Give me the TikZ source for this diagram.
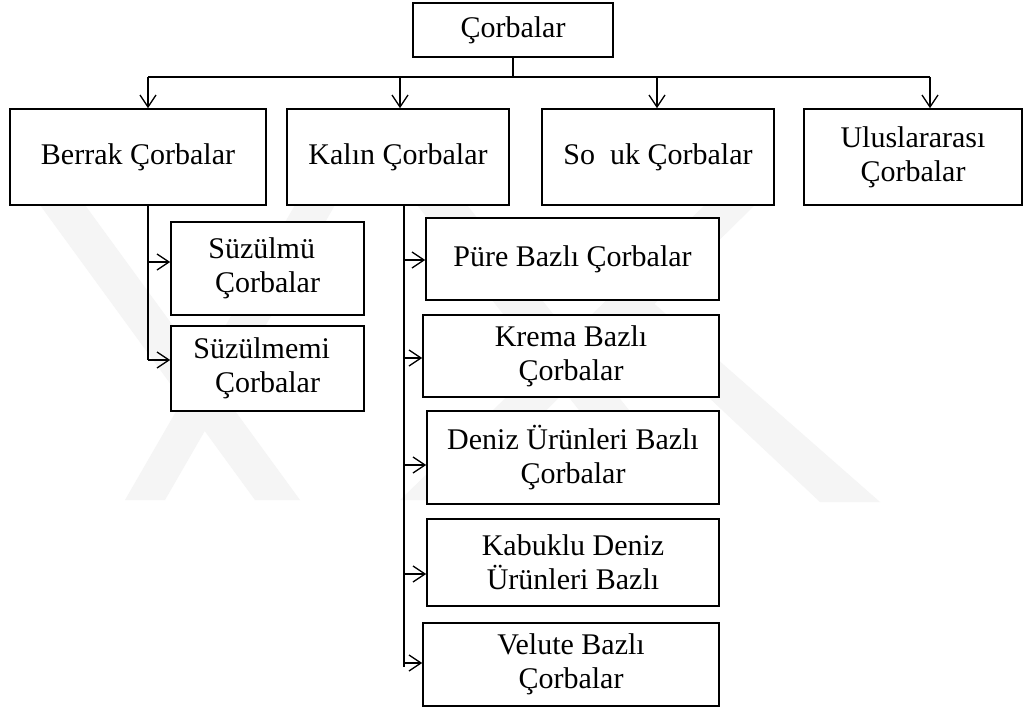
\documentclass[tikz,border=0pt]{standalone}
\usepackage{fontspec}
\setmainfont{Liberation Serif}
\usetikzlibrary{arrows.meta}
\begin{document}
\begin{tikzpicture}[x=0.75pt,y=-0.75pt,
  box/.style={draw=black, line width=1.2pt, fill=white, align=center, inner sep=0pt,
    font=\fontsize{22.5}{25.5}\selectfont},
  conn/.style={draw=black, line width=1pt},
  arr/.style={conn, -{Straight Barb[length=9pt,width=12pt,line width=1pt]}},
  wm/.style={fill=gray!8, draw=none}]
\useasboundingbox (0,0) rectangle (1024,711);
\fill[white] (0,0) rectangle (1024,711);
% faint watermark bands
\fill[wm] (40,205) -- (85,205) -- (300,500) -- (255,500) -- cycle;
\fill[wm] (125,500) -- (165,500) -- (335,205) -- (295,205) -- cycle;
\fill[wm] (417,205) -- (467,205) -- (700,500) -- (650,500) -- cycle;
\fill[wm] (400,500) -- (455,500) -- (757,203) -- (707,203) -- cycle;
\fill[wm] (605,300) -- (650,300) -- (880,502) -- (820,502) -- cycle;
% boxes
\node[box, minimum width=150pt, minimum height=40.5pt] (root) at (513,30) {Çorbalar};
\node[box, minimum width=192pt, minimum height=72pt] (berrak) at (138,157) {Berrak Çorbalar};
\node[box, minimum width=166.5pt, minimum height=72pt] (kalin) at (398,157) {Kalın Çorbalar};
\node[box, minimum width=174pt, minimum height=72pt] (soguk) at (658,157) {So\phantom{ğ}uk Çorbalar};
\node[box, minimum width=163.5pt, minimum height=72pt] (ulus) at (913,157) {Uluslararası\\Çorbalar};
\node[box, minimum width=144.75pt, minimum height=69.75pt] (suz1) at (267.5,268.5) {Süzülmü\phantom{ş}\\Çorbalar};
\node[box, minimum width=144.75pt, minimum height=63.75pt] (suz2) at (267.5,368.5) {Süzülmemi\phantom{ş}\\Çorbalar};
\node[box, minimum width=219.75pt, minimum height=61.5pt] (pure) at (572.5,259) {Püre Bazlı Çorbalar};
\node[box, minimum width=222pt, minimum height=61.5pt] (krema) at (571,356) {Krema Bazlı\\Çorbalar};
\node[box, minimum width=219pt, minimum height=69.75pt] (deniz) at (573,457.5) {Deniz Ürünleri Bazlı\\Çorbalar};
\node[box, minimum width=219pt, minimum height=65.25pt] (kabuk) at (573,562.5) {Kabuklu Deniz\\Ürünleri Bazlı};
\node[box, minimum width=222pt, minimum height=62.25pt] (velute) at (571,664.5) {Velute Bazlı\\Çorbalar};
% top bus
\coordinate (b1) at (148,77);
\coordinate (b2) at (400,77);
\coordinate (b3) at (657,77);
\coordinate (b4) at (930,77);
\draw[conn] (root.south) -- (root.south |- b1);
\draw[conn] (b1) -- (b4);
\draw[arr] (b1) -- (b1 |- berrak.north);
\draw[arr] (b2) -- (b2 |- kalin.north);
\draw[arr] (b3) -- (b3 |- soguk.north);
\draw[arr] (b4) -- (b4 |- ulus.north);
% Berrak branch
\coordinate (s1) at (148,262);
\coordinate (s2) at (148,360);
\draw[conn] (s1 |- berrak.south) -- (s2);
\draw[arr] (s1) -- (s1 -| suz1.west);
\draw[arr] (s2) -- (s2 -| suz2.west);
% Kalin branch
\coordinate (k1) at (404,260);
\coordinate (k2) at (404,358);
\coordinate (k3) at (404,465);
\coordinate (k4) at (404,574);
\coordinate (k5) at (404,663);
\coordinate (kend) at (404,667);
\draw[conn] (k1 |- kalin.south) -- (kend);
\draw[arr] (k1) -- (k1 -| pure.west);
\draw[arr] (k2) -- (k2 -| krema.west);
\draw[arr] (k3) -- (k3 -| deniz.west);
\draw[arr] (k4) -- (k4 -| kabuk.west);
\draw[arr] (k5) -- (k5 -| velute.west);
\end{tikzpicture}
\end{document}
